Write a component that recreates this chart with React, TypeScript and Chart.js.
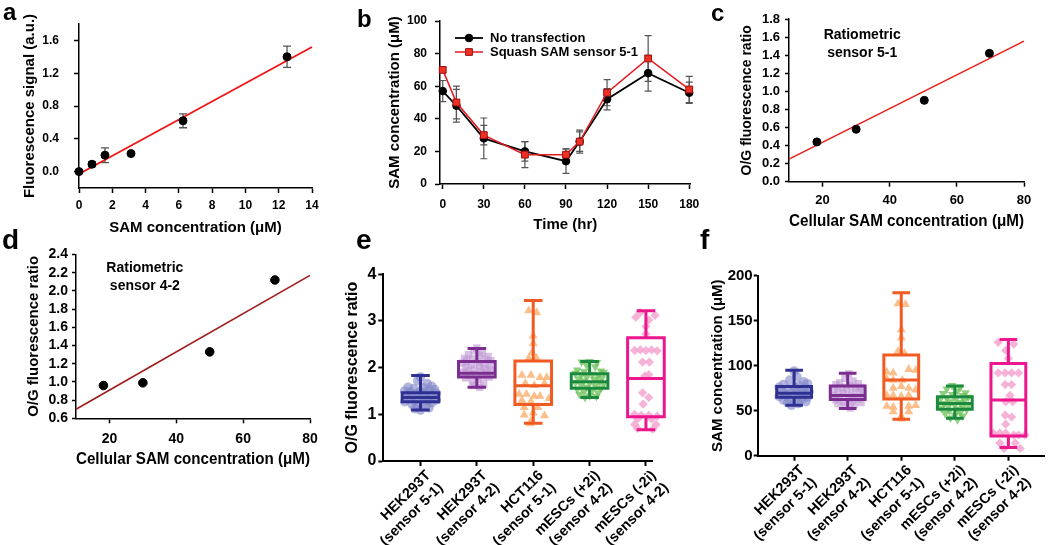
import React, { useEffect, useRef } from 'react';
import { Chart, registerables } from 'chart.js';

Chart.register(...registerables);

const FONT = "'Liberation Sans', Arial, Helvetica, sans-serif";

// ---------------- panel a ----------------
const aConcentration = [0, 0.78, 1.56, 3.125, 6.25, 12.5];
const aSignal = [0, 0.09, 0.2, 0.22, 0.62, 1.4];
const aSignalError = [0, 0.03, 0.09, 0, 0.085, 0.13];
const aFitConcentration = [0, 14];
const aFitSignal = [-0.03, 1.52];
const aXTicks = [0, 2, 4, 6, 8, 10, 12, 14];
const aYTicks = [0, 0.4, 0.8, 1.2, 1.6];

// ---------------- panel b ----------------
const bTime = [0, 10, 30, 60, 90, 100, 120, 150, 180];
const bNoTransfection = [57, 48, 28, 20, 14, 26, 52, 68, 56];
const bNoTransfectionError = [6.5, 10, 12.5, 6, 7.5, 6, 6.5, 11, 6.5];
const bSensor51 = [70, 50, 30, 18, 18, 26, 56, 77, 58];
const bSensor51Error = [1.5, 10, 6, 8, 3.6, 7, 8, 14, 8];
const bSeriesNames = ['No transfection', 'Squash SAM sensor 5-1'];
const bXTicks = [0, 30, 60, 90, 120, 150, 180];
const bYTicks = [0, 20, 40, 60, 80, 100];

// ---------------- panel c ----------------
const cCellularSAM = [18.3, 30, 50.3, 69.7];
const cRatio = [0.44, 0.58, 0.9, 1.42];
const cFitSAM = [10, 80];
const cFitRatio = [0.25, 1.555];
const cXTicks = [20, 40, 60, 80];
const cYTicks = [0, 0.2, 0.4, 0.6, 0.8, 1.0, 1.2, 1.4, 1.6, 1.8];
const cNote = ['Ratiometric', 'sensor 5-1'];

// ---------------- panel d ----------------
const dCellularSAM = [18.2, 30, 50, 69.5];
const dRatio = [0.96, 0.99, 1.33, 2.12];
const dFitSAM = [10, 80];
const dFitRatio = [0.7, 2.17];
const dXTicks = [20, 40, 60, 80];
const dYTicks = [0.6, 0.8, 1.0, 1.2, 1.4, 1.6, 1.8, 2.0, 2.2, 2.4];
const dNote = ['Ratiometric', 'sensor 4-2'];

// ---------------- panels e / f ----------------
const groupLabels = [
  ['HEK293T', '(sensor 5-1)'],
  ['HEK293T', '(sensor 4-2)'],
  ['HCT116', '(sensor 5-1)'],
  ['mESCs (+2i)', '(sensor 4-2)'],
  ['mESCs (-2i)', '(sensor 4-2)'],
];
const groupTicks = [0, 1, 2, 3, 4];

const eLow = [1.09, 1.58, 0.81, 1.36, 0.67];
const eQ1 = [1.27, 1.8, 1.21, 1.56, 0.95];
const eMedian = [1.36, 1.88, 1.61, 1.7, 1.77];
const eQ3 = [1.46, 2.13, 2.14, 1.87, 2.64];
const eHigh = [1.83, 2.41, 3.44, 2.13, 3.22];
const eYTicks = [0, 1, 2, 3, 4];

// points: [horizontal jitter within group, value]
const eHek51 = [[0, 1.8], [-0.05, 1.72], [0.12, 1.66], [0.2, 1.6], [-0.22, 1.58], [0.05, 1.57], [-0.12, 1.55], [0.25, 1.53], [0.15, 1.52], [-0.28, 1.5], [0, 1.49], [-0.18, 1.47], [0.08, 1.46], [0.28, 1.45], [-0.08, 1.44], [0.18, 1.42], [-0.25, 1.41], [0.02, 1.4], [-0.15, 1.38], [0.22, 1.37], [0.1, 1.36], [-0.05, 1.35], [-0.22, 1.33], [0.15, 1.32], [0.28, 1.31], [-0.1, 1.3], [0.05, 1.28], [-0.28, 1.27], [0.2, 1.25], [-0.15, 1.22], [0.1, 1.2], [-0.05, 1.17], [0.15, 1.14], [-0.1, 1.12], [0, 1.09]];
const eHek42 = [[0, 2.42], [-0.05, 2.36], [0.1, 2.32], [-0.15, 2.28], [0.05, 2.26], [0.2, 2.24], [-0.22, 2.2], [-0.08, 2.19], [0.15, 2.17], [0.25, 2.15], [-0.18, 2.14], [0.02, 2.12], [-0.25, 2.1], [0.12, 2.08], [-0.1, 2.06], [0.22, 2.04], [0.05, 2.02], [-0.2, 2.0], [0.15, 1.98], [-0.05, 1.97], [0.25, 1.95], [-0.15, 1.93], [0.08, 1.92], [-0.25, 1.9], [0.18, 1.88], [-0.02, 1.86], [-0.12, 1.84], [0.1, 1.82], [0.22, 1.8], [-0.2, 1.78], [0.02, 1.75], [-0.08, 1.7], [0.12, 1.66], [-0.05, 1.62], [0.05, 1.58]];
const eHct51 = [[-0.08, 3.22], [0.06, 3.18], [0, 2.68], [0, 2.52], [-0.02, 2.32], [-0.08, 2.2], [0.06, 2.2], [-0.2, 1.84], [-0.04, 1.84], [0.12, 1.79], [0.24, 1.79], [-0.14, 1.66], [0.02, 1.62], [0.2, 1.66], [-0.25, 1.43], [-0.12, 1.43], [0.02, 1.39], [0.12, 1.39], [0.28, 1.34], [-0.2, 1.3], [-0.04, 1.27], [-0.16, 1.15], [0.08, 1.15], [-0.16, 0.99], [0, 1.03], [0.2, 0.97], [-0.04, 0.86], [-0.05, 0.8]];
const eMescPlus = [[-0.14, 2.12], [0, 2.13], [0.13, 2.11], [-0.05, 2.05], [0.1, 2.02], [-0.22, 1.95], [0.2, 1.93], [-0.1, 1.92], [0.25, 1.9], [-0.25, 1.88], [0.05, 1.86], [-0.15, 1.84], [0.15, 1.82], [-0.05, 1.8], [0.22, 1.78], [-0.2, 1.76], [0.08, 1.75], [-0.1, 1.72], [0.18, 1.7], [-0.25, 1.68], [0, 1.67], [0.25, 1.65], [-0.15, 1.63], [0.1, 1.61], [-0.05, 1.58], [0.2, 1.56], [-0.22, 1.54], [0.05, 1.52], [-0.1, 1.48], [0.15, 1.46], [-0.18, 1.43], [0, 1.4], [0.12, 1.38], [-0.08, 1.36]];
const eMescMinus = [[-0.1, 3.18], [0.16, 3.12], [-0.18, 3.08], [0.05, 3.02], [0, 2.88], [0, 2.72], [-0.2, 2.37], [-0.1, 2.38], [0, 2.37], [0.1, 2.38], [0.2, 2.36], [-0.06, 2.12], [0.06, 2.12], [0.05, 1.85], [-0.02, 1.82], [-0.06, 1.46], [0.05, 1.36], [-0.05, 1.22], [-0.2, 1.0], [-0.08, 0.98], [0.05, 0.98], [0.2, 0.96], [-0.15, 0.9], [0.1, 0.9], [-0.2, 0.78], [0.18, 0.78], [-0.15, 0.7], [0.12, 0.68]];

const fLow = [56, 52.5, 40.5, 41.5, 9];
const fQ1 = [65, 62.5, 63, 51.5, 22];
const fMedian = [69.5, 67, 84, 58, 62];
const fQ3 = [77, 77.5, 112, 65.5, 102.5];
const fHigh = [95, 91.5, 181, 77.5, 129];
const fYTicks = [0, 50, 100, 150, 200];

const fHek51 = [[0, 94], [0.05, 88], [-0.08, 84], [0.18, 82], [0.25, 80], [-0.2, 79], [0.1, 78], [-0.28, 76], [0.02, 76], [0.22, 75], [-0.12, 74], [0.15, 73], [-0.22, 72], [0.28, 71], [0.05, 71], [-0.05, 70], [0.2, 69], [-0.18, 68], [0.1, 67], [-0.28, 66], [0.25, 65], [-0.1, 64], [0.15, 63], [-0.2, 62], [0.05, 61], [0.22, 60], [-0.12, 59], [0.08, 58], [-0.05, 56]];
const fHek42 = [[0.02, 91], [-0.05, 86], [0.1, 83], [-0.15, 81], [0.2, 80], [-0.22, 79], [0.05, 78], [0.25, 76], [-0.1, 76], [0.15, 75], [-0.25, 74], [-0.02, 73], [0.22, 72], [-0.18, 71], [0.08, 70], [-0.08, 69], [0.28, 68], [-0.28, 67], [0.12, 66], [-0.15, 65], [0.02, 64], [0.2, 63], [-0.22, 62], [0.08, 61], [-0.08, 60], [0.25, 59], [-0.18, 58], [0.12, 57], [-0.05, 55], [0.05, 53]];
const fHct51 = [[-0.06, 169], [0.08, 168], [0, 140], [0, 131], [-0.06, 116], [0.06, 114], [-0.27, 93], [-0.15, 92], [0.14, 96], [0.27, 95], [-0.27, 85], [-0.15, 84], [0.02, 84], [-0.15, 75], [0, 77], [0.14, 75], [0.27, 73], [-0.27, 67], [-0.15, 67], [0, 66], [0.14, 67], [-0.27, 55], [-0.15, 54], [0.14, 55], [0.27, 56], [-0.15, 49], [0.14, 49], [0, 44], [0, 41]];
const fMescPlus = [[-0.05, 78], [0.1, 76], [-0.15, 74], [0.05, 72], [0.2, 70], [-0.22, 69], [-0.05, 68], [0.15, 67], [0.25, 65], [-0.15, 64], [0.02, 63], [-0.28, 62], [0.18, 61], [-0.08, 60], [0.1, 59], [-0.2, 58], [0.25, 57], [0, 56], [-0.12, 55], [0.15, 54], [-0.25, 53], [0.05, 52], [0.22, 51], [-0.1, 50], [0.1, 48], [-0.18, 47], [0, 45], [0.15, 44], [-0.08, 42], [0.05, 40]];
const fMescMinus = [[-0.19, 126], [0.1, 124], [-0.05, 117], [0, 108], [-0.19, 92], [-0.06, 92], [0.06, 92], [0.19, 92], [-0.06, 79], [0.06, 79], [0.03, 67], [-0.05, 60], [0.08, 60], [-0.06, 45], [0.06, 43], [-0.05, 35], [-0.28, 25], [-0.16, 25], [-0.05, 25], [0.1, 23], [0.19, 23], [0.31, 23], [-0.16, 14], [-0.08, 8], [0.13, 14], [0.22, 8]];

// ---------------- styling ----------------
const boxColors = ['#2e3192', '#7b2d90', '#f15a22', '#1b8a3e', '#ec178c'];
const pointColors = [
  'rgba(128,134,200,0.6)',
  'rgba(190,150,212,0.6)',
  'rgba(250,180,120,0.85)',
  'rgba(105,192,85,0.75)',
  'rgba(244,165,208,0.85)',
];
const pointStyles = ['circle', 'rect', 'triangle', 'triangle', 'rectRot'];
const pointRotations = [0, 0, 0, 180, 0];
const pointSizes = [4.8, 5.2, 5.2, 5, 4.6];

// ---------------- helpers ----------------
type AxisSpec = {
  min: number;
  max: number;
  ticks: number[];
  fmt: (v: number) => any;
  font: number;
  pad: number;
  tickLen: number;
  lineWidth?: number;
  title?: string;
  titleSize?: number;
  titlePad?: { top: number; bottom: number };
  fit: (s: any) => void;
  rotation?: number;
  labelOffset?: number;
};

function axis(o: AxisSpec): any {
  const lw = o.lineWidth ?? 1.5;
  return {
    type: 'linear',
    min: o.min,
    max: o.max,
    afterBuildTicks: (ax: any) => {
      ax.ticks = o.ticks.map((v) => ({ value: v }));
    },
    afterFit: o.fit,
    grid: {
      display: true,
      drawOnChartArea: false,
      drawTicks: true,
      tickLength: o.tickLen,
      tickWidth: lw,
      tickColor: '#000',
    },
    border: { display: true, color: '#000', width: lw },
    ticks: {
      color: '#000',
      font: { family: FONT, size: o.font, weight: 'bold', lineHeight: 1.2 },
      padding: o.pad,
      autoSkip: false,
      minRotation: o.rotation ?? 0,
      maxRotation: o.rotation ?? 0,
      labelOffset: o.labelOffset ?? 0,
      callback: (v: any) => o.fmt(Number(v)),
    },
    title: o.title
      ? {
          display: true,
          text: o.title,
          color: '#000',
          font: { family: FONT, size: o.titleSize, weight: 'bold', lineHeight: 1.2 },
          padding: o.titlePad,
        }
      : { display: false },
  };
}

const widthFit = (w: number) => (s: any) => {
  s.width = w;
};
const heightFit = (h: number) => (s: any) => {
  s.height = h;
};

function baseOptions(padding: any, scales: any): any {
  return {
    responsive: false,
    maintainAspectRatio: false,
    animation: false,
    devicePixelRatio: 1,
    events: [],
    layout: { padding },
    plugins: { legend: { display: false }, tooltip: { enabled: false } },
    scales,
  };
}

function errorBarPlugin(bars: { dataset: number; errors: number[]; color: string }[], capHalf: number, width: number) {
  return {
    id: 'errorBars',
    beforeDatasetsDraw(chart: any) {
      const { ctx } = chart;
      const x = chart.scales.x;
      const y = chart.scales.y;
      bars.forEach((b) => {
        const ds = chart.data.datasets[b.dataset];
        ctx.save();
        ctx.strokeStyle = b.color;
        ctx.lineWidth = width;
        ds.data.forEach((p: any, i: number) => {
          const e = b.errors[i];
          if (!e) return;
          const px = x.getPixelForValue(p.x);
          const top = y.getPixelForValue(p.y + e);
          const bot = y.getPixelForValue(p.y - e);
          ctx.beginPath();
          ctx.moveTo(px, top);
          ctx.lineTo(px, bot);
          ctx.moveTo(px - capHalf, top);
          ctx.lineTo(px + capHalf, top);
          ctx.moveTo(px - capHalf, bot);
          ctx.lineTo(px + capHalf, bot);
          ctx.stroke();
        });
        ctx.restore();
      });
    },
  };
}

function boxPlotPlugin(
  lo: number[],
  q1: number[],
  med: number[],
  q3: number[],
  hi: number[],
  colors: string[],
  boxWidth: number,
  capWidth: number,
  lineWidth: number
) {
  return {
    id: 'boxPlot',
    afterDatasetsDraw(chart: any) {
      const { ctx } = chart;
      const x = chart.scales.x;
      const y = chart.scales.y;
      ctx.save();
      ctx.lineWidth = lineWidth;
      ctx.lineJoin = 'miter';
      med.forEach((m, i) => {
        const xl = x.getPixelForValue(i - boxWidth / 2);
        const xr = x.getPixelForValue(i + boxWidth / 2);
        const xc = x.getPixelForValue(i);
        const cl = x.getPixelForValue(i - capWidth / 2);
        const cr = x.getPixelForValue(i + capWidth / 2);
        const yLo = y.getPixelForValue(lo[i]);
        const yQ1 = y.getPixelForValue(q1[i]);
        const yM = y.getPixelForValue(m);
        const yQ3 = y.getPixelForValue(q3[i]);
        const yHi = y.getPixelForValue(hi[i]);
        ctx.strokeStyle = colors[i];
        ctx.beginPath();
        ctx.rect(xl, yQ3, xr - xl, yQ1 - yQ3);
        ctx.moveTo(xl, yM);
        ctx.lineTo(xr, yM);
        ctx.moveTo(xc, yQ3);
        ctx.lineTo(xc, yHi);
        ctx.moveTo(xc, yQ1);
        ctx.lineTo(xc, yLo);
        ctx.moveTo(cl, yHi);
        ctx.lineTo(cr, yHi);
        ctx.moveTo(cl, yLo);
        ctx.lineTo(cr, yLo);
        ctx.stroke();
      });
      ctx.restore();
    },
  };
}

function notePlugin(lines: string[], xValue: number, yValue: number, lineGap: number, size: number) {
  return {
    id: 'note',
    afterDraw(chart: any) {
      const { ctx } = chart;
      const px = chart.scales.x.getPixelForValue(xValue);
      const py = chart.scales.y.getPixelForValue(yValue);
      ctx.save();
      ctx.font = `bold ${size}px ${FONT}`;
      ctx.fillStyle = '#000';
      ctx.textAlign = 'center';
      ctx.textBaseline = 'middle';
      lines.forEach((t, i) => ctx.fillText(t, px, py + i * lineGap));
      ctx.restore();
    },
  };
}

function lineLegendPlugin(offX: number, offY: number, rowGap: number, lineLen: number, textGap: number, size: number) {
  return {
    id: 'lineLegend',
    afterDraw(chart: any) {
      const { ctx, chartArea } = chart;
      ctx.save();
      chart.data.datasets.forEach((ds: any, i: number) => {
        const x0 = chartArea.left + offX;
        const yy = chartArea.top + offY + i * rowGap;
        ctx.strokeStyle = ds.borderColor;
        ctx.lineWidth = ds.borderWidth;
        ctx.beginPath();
        ctx.moveTo(x0, yy);
        ctx.lineTo(x0 + lineLen, yy);
        ctx.stroke();
        const cx = x0 + lineLen / 2;
        ctx.fillStyle = ds.pointBackgroundColor;
        ctx.strokeStyle = ds.pointBorderColor;
        ctx.lineWidth = ds.pointBorderWidth;
        ctx.beginPath();
        if (ds.pointStyle === 'rect') {
          const h = ds.pointRadius * Math.SQRT1_2;
          ctx.rect(cx - h, yy - h, 2 * h, 2 * h);
        } else {
          ctx.arc(cx, yy, ds.pointRadius, 0, Math.PI * 2);
        }
        ctx.fill();
        ctx.stroke();
        ctx.font = `bold ${size}px ${FONT}`;
        ctx.fillStyle = '#000';
        ctx.textAlign = 'left';
        ctx.textBaseline = 'middle';
        ctx.fillText(ds.label, x0 + lineLen + textGap, yy);
      });
      ctx.restore();
    },
  };
}

const pts = (xs: number[], ys: number[]) => xs.map((x, i) => ({ x, y: ys[i] }));

// ---------------- chart builders ----------------
function buildA(): any {
  return {
    type: 'scatter',
    data: {
      datasets: [
        {
          data: pts(aConcentration, aSignal),
          pointRadius: 4,
          pointBackgroundColor: '#000',
          pointBorderColor: '#000',
          order: 0,
          clip: false,
        },
        {
          data: pts(aFitConcentration, aFitSignal),
          showLine: true,
          borderColor: '#f01414',
          borderWidth: 1.8,
          pointRadius: 0,
          order: 1,
          clip: false,
        },
      ],
    },
    options: baseOptions({ top: 24, right: 18, bottom: 0, left: 0 }, {
      x: axis({
        min: 0, max: 14, ticks: aXTicks, fmt: (v) => String(v), font: 12, pad: 5, tickLen: 5,
        title: 'SAM concentration (μM)', titleSize: 15, titlePad: { top: 0, bottom: 3.6 }, fit: heightFit(52),
      }),
      y: axis({
        min: -0.2, max: 1.8, ticks: aYTicks, fmt: (v) => v.toFixed(1), font: 12, pad: 15, tickLen: 5,
        title: 'Fluorescence signal (a.u.)', titleSize: 15, titlePad: { top: 21, bottom: 0 }, fit: widthFit(79),
      }),
    }),
    plugins: [errorBarPlugin([{ dataset: 0, errors: aSignalError, color: '#555' }], 4, 1.3)],
  };
}

function buildB(): any {
  return {
    type: 'scatter',
    data: {
      datasets: [
        {
          label: bSeriesNames[0],
          data: pts(bTime, bNoTransfection),
          showLine: true,
          borderColor: '#000',
          borderWidth: 1.8,
          pointStyle: 'circle',
          pointRadius: 3.8,
          pointBackgroundColor: '#000',
          pointBorderColor: '#000',
          pointBorderWidth: 1,
          order: 1,
          clip: false,
        },
        {
          label: bSeriesNames[1],
          data: pts(bTime, bSensor51),
          showLine: true,
          borderColor: '#e3191f',
          borderWidth: 1.5,
          pointStyle: 'rect',
          pointRadius: 4.8,
          pointBackgroundColor: '#ee3124',
          pointBorderColor: '#a01212',
          pointBorderWidth: 1,
          order: 0,
          clip: false,
        },
      ],
    },
    options: baseOptions({ top: 21, right: 19.4, bottom: 0, left: 0 }, {
      x: axis({
        min: -2, max: 181, ticks: bXTicks, fmt: (v) => String(v), font: 12, pad: 8, tickLen: 5,
        title: 'Time (hr)', titleSize: 15, titlePad: { top: 0, bottom: 6.6 }, fit: heightFit(56),
      }),
      y: axis({
        min: 0, max: 100, ticks: bYTicks, fmt: (v) => String(v), font: 12, pad: 8, tickLen: 5,
        title: 'SAM concentration (μM)', titleSize: 15, titlePad: { top: 46, bottom: 0 }, fit: widthFit(100),
      }),
    }),
    plugins: [
      errorBarPlugin(
        [
          { dataset: 0, errors: bNoTransfectionError, color: '#555' },
          { dataset: 1, errors: bSensor51Error, color: '#555' },
        ],
        3.5,
        1.2
      ),
      lineLegendPlugin(15, 17, 14, 28, 7, 13),
    ],
  };
}

function buildRatio(
  xs: number[], ys: number[], fitX: number[], fitY: number[], lineColor: string,
  yMin: number, yMax: number, yTicks: number[], xTicks: number[],
  tickFont: number, xPad: number, yPad: number, yTickLen: number,
  xTitleSize: number, xTitlePadBottom: number, xHeight: number,
  yTitleSize: number, yTitlePadTop: number, yWidth: number,
  padding: any, note: string[], noteX: number, noteY: number, pointRadius: number
): any {
  return {
    type: 'scatter',
    data: {
      datasets: [
        {
          data: pts(xs, ys),
          pointRadius,
          pointBackgroundColor: '#000',
          pointBorderColor: '#000',
          order: 0,
          clip: false,
        },
        {
          data: pts(fitX, fitY),
          showLine: true,
          borderColor: lineColor,
          borderWidth: 1.6,
          pointRadius: 0,
          order: 1,
          clip: false,
        },
      ],
    },
    options: baseOptions(padding, {
      x: axis({
        min: 10, max: 80, ticks: xTicks, fmt: (v) => String(v), font: tickFont, pad: xPad, tickLen: 5,
        title: 'Cellular SAM concentration (μM)', titleSize: xTitleSize, titlePad: { top: 0, bottom: xTitlePadBottom },
        fit: heightFit(xHeight),
      }),
      y: axis({
        min: yMin, max: yMax, ticks: yTicks, fmt: (v) => v.toFixed(1), font: tickFont, pad: yPad, tickLen: yTickLen,
        title: 'O/G fluorescence ratio', titleSize: yTitleSize, titlePad: { top: yTitlePadTop, bottom: 0 },
        fit: widthFit(yWidth),
      }),
    }),
    plugins: [notePlugin(note, noteX, noteY, 18, 14)],
  };
}

function buildC(): any {
  return buildRatio(
    cCellularSAM, cRatio, cFitSAM, cFitRatio, '#e8201c',
    0, 1.8, cYTicks, cXTicks,
    13, 6, 5, 4,
    16, 8.4, 58.3,
    14, 38.6, 89,
    { top: 19, right: 26, bottom: 0, left: 0 }, cNote, 31.8, 1.62, 4
  );
}

function buildD(): any {
  return buildRatio(
    dCellularSAM, dRatio, dFitSAM, dFitRatio, '#9e1a1a',
    0.6, 2.4, dYTicks, dXTicks,
    14, 7, 4, 4,
    16, 5.4, 56.7,
    15, 25, 76,
    { top: 19.5, right: 20, bottom: 0, left: 0 }, dNote, 30.6, 2.25, 4.3
  );
}

function buildBox(
  groups: number[][][], lo: number[], q1: number[], med: number[], q3: number[], hi: number[],
  xMin: number, xMax: number, yMax: number, yTicks: number[], yFont: number, yPad: number, yTickLen: number,
  yTitle: string, yTitleSize: number, yTitlePadTop: number, yWidth: number, xHeight: number, padding: any
): any {
  return {
    type: 'scatter',
    data: {
      datasets: groups.map((g, gi) => ({
        data: g.map(([j, v]) => ({ x: gi + j, y: v })),
        pointStyle: pointStyles[gi],
        rotation: pointRotations[gi],
        pointRadius: pointSizes[gi],
        pointBackgroundColor: pointColors[gi],
        pointBorderColor: pointColors[gi],
        pointBorderWidth: 0,
        clip: false,
      })),
    },
    options: baseOptions(padding, {
      x: axis({
        min: xMin, max: xMax, ticks: groupTicks, fmt: (v) => groupLabels[Math.round(v)], font: 14.5, pad: 1, tickLen: 5,
        lineWidth: 2, fit: heightFit(xHeight), rotation: 45, labelOffset: 8,
      }),
      y: axis({
        min: 0, max: yMax, ticks: yTicks, fmt: (v) => String(v), font: yFont, pad: yPad, tickLen: yTickLen, lineWidth: 2,
        title: yTitle, titleSize: yTitleSize, titlePad: { top: yTitlePadTop, bottom: 0 }, fit: widthFit(yWidth),
      }),
    }),
    plugins: [boxPlotPlugin(lo, q1, med, q3, hi, boxColors, 0.65, 0.33, 3)],
  };
}

function buildE(): any {
  return buildBox(
    [eHek51, eHek42, eHct51, eMescPlus, eMescMinus], eLow, eQ1, eMedian, eQ3, eHigh,
    -0.66, 4.12, 4, eYTicks, 16, 2, 5,
    'O/G fluorescence ratio', 16, 2.9, 43.3, 84,
    { top: 29.3, right: 42.3, bottom: 0, left: 0 }
  );
}

function buildF(): any {
  return buildBox(
    [fHek51, fHek42, fHct51, fMescPlus, fMescMinus], fLow, fQ1, fMedian, fQ3, fHigh,
    -0.68, 4.68, 200, fYTicks, 15, 1, 4,
    'SAM concentration (μM)', 15, 18.5, 67.7, 89.3,
    { top: 30.7, right: 3.3, bottom: 0, left: 0 }
  );
}

// ---------------- components ----------------
function Panel(props: { left: number; top: number; width: number; height: number; build: () => any }) {
  const ref = useRef<HTMLCanvasElement | null>(null);
  useEffect(() => {
    if (!ref.current) return;
    const chart = new Chart(ref.current, props.build());
    return () => chart.destroy();
  }, []);
  return (
    <canvas
      ref={ref}
      width={props.width}
      height={props.height}
      style={{ position: 'absolute', left: props.left, top: props.top, width: props.width, height: props.height }}
    />
  );
}

const panelLetters = [
  { t: 'a', x: 3, y: 0, s: 24 },
  { t: 'b', x: 357, y: 6.5, s: 24 },
  { t: 'c', x: 711, y: 1, s: 24 },
  { t: 'd', x: 2, y: 226, s: 28 },
  { t: 'e', x: 356, y: 226, s: 28 },
  { t: 'f', x: 700, y: 226, s: 28 },
];

export default function App() {
  return (
    <div style={{ position: 'fixed', left: 0, top: 0, width: 1050, height: 545, background: '#fff', overflow: 'hidden' }}>
      <Panel left={0} top={0} width={330} height={240} build={buildA} />
      <Panel left={340} top={0} width={370} height={240} build={buildB} />
      <Panel left={700} top={0} width={350} height={240} build={buildC} />
      <Panel left={0} top={235} width={330} height={240} build={buildD} />
      <Panel left={340} top={245} width={355} height={300} build={buildE} />
      <Panel left={690} top={245} width={360} height={300} build={buildF} />
      {panelLetters.map((l) => (
        <div
          key={l.t}
          style={{
            position: 'absolute',
            left: l.x,
            top: l.y,
            fontFamily: FONT,
            fontWeight: 'bold',
            fontSize: l.s,
            lineHeight: 1,
            color: '#000',
            zIndex: 2,
          }}
        >
          {l.t}
        </div>
      ))}
    </div>
  );
}
